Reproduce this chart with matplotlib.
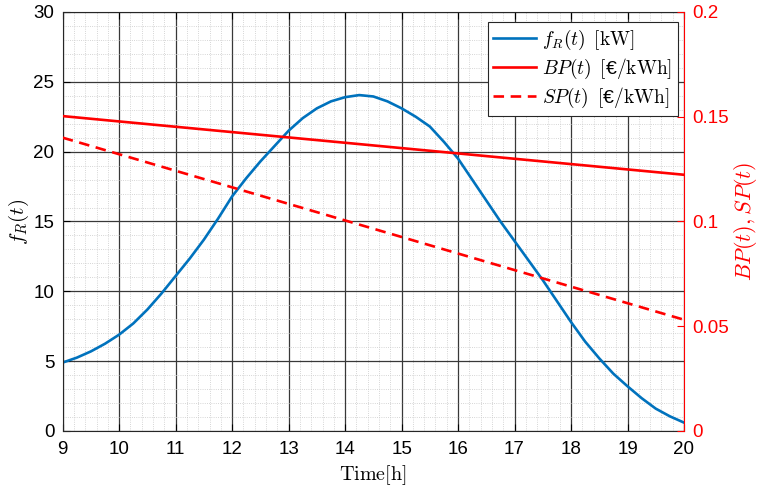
import matplotlib
matplotlib.use("Agg")
import matplotlib.pyplot as plt
from matplotlib.ticker import MultipleLocator, FuncFormatter

plt.rcParams['font.family'] = ['Liberation Sans', 'DejaVu Sans']
plt.rcParams['mathtext.fontset'] = 'cm'

# data
hours = [9, 9.25, 9.5, 9.75, 10, 10.25, 10.5, 10.75, 11, 11.25, 11.5, 11.75,
         12, 12.25, 12.5, 12.75, 13, 13.25, 13.5, 13.75, 14, 14.25, 14.5, 14.75,
         15, 15.25, 15.5, 15.75, 16, 16.25, 16.5, 16.75, 17, 17.25, 17.5, 17.75,
         18, 18.25, 18.5, 18.75, 19, 19.25, 19.5, 19.75, 20]
f_r = [4.9, 5.25, 5.7, 6.25, 6.9, 7.7, 8.7, 9.85, 11.1, 12.35, 13.7, 15.2,
       16.8, 18.1, 19.3, 20.4, 21.5, 22.4, 23.1, 23.6, 23.9, 24.05, 23.95, 23.6,
       23.1, 22.5, 21.8, 20.7, 19.5, 18.0, 16.5, 15.0, 13.6, 12.2, 10.8, 9.3,
       7.8, 6.4, 5.2, 4.1, 3.2, 2.35, 1.6, 1.05, 0.6]
price_hours = [9, 20]
bp = [0.1503, 0.1223]
sp = [0.140, 0.0531]

blue = '#0072BD'
red = '#FF0000'

fig = plt.figure(figsize=(7.61, 4.93), dpi=100)
ax = fig.add_axes([0.0824, 0.1258, 0.8164, 0.8499])
ax2 = ax.twinx()

l1, = ax.plot(hours, f_r, color=blue, lw=1.9)
l2, = ax2.plot(price_hours, bp, color=red, lw=1.9)
l3, = ax2.plot(price_hours, sp, color=red, lw=1.9, ls=(0, (4, 2.5)))

ax.set_xlim(9, 20)
ax.set_ylim(0, 30)
ax2.set_ylim(0, 0.2)

ax.xaxis.set_major_locator(MultipleLocator(1))
ax.xaxis.set_minor_locator(MultipleLocator(0.2))
ax.yaxis.set_major_locator(MultipleLocator(5))
ax.yaxis.set_minor_locator(MultipleLocator(1))
ax2.yaxis.set_major_locator(MultipleLocator(0.05))
ax2.yaxis.set_major_formatter(FuncFormatter(lambda v, p: ('%g' % round(v, 3))))

ax.grid(True, which='major', color='#383838', lw=0.9)
ax.grid(True, which='minor', color='#c8c8c8', lw=0.6, ls=':')
ax.set_axisbelow(True)

ax.tick_params(which='both', direction='in', labelsize=13.5, top=True)
ax.tick_params(which='minor', length=0)
ax.tick_params(which='major', length=5, width=0.8)
ax.tick_params(axis='x', pad=7)
ax.tick_params(axis='y', pad=6)
ax2.tick_params(direction='in', labelsize=13.5, colors=red, length=5, pad=6)

for s in ['left', 'top', 'bottom']:
    ax.spines[s].set_color('#262626')
ax.spines['right'].set_visible(False)
ax2.spines['right'].set_color(red)
for s in ['left', 'top', 'bottom']:
    ax2.spines[s].set_visible(False)

ax.set_xlabel(r'$\mathrm{Time[h]}$', fontsize=14.5, labelpad=4)
ax.set_ylabel(r'$f_R(t)$', fontsize=15, labelpad=2)
ax2.set_ylabel(r'$BP(t),SP(t)$', fontsize=16, color=red, labelpad=2)

leg = ax2.legend([l1, l2, l3],
                 [r'$f_R(t)\ \,[\mathrm{kW}]$',
                  r'$BP(t)\ \,[$€$\mathrm{/kWh}]$',
                  r'$SP(t)\ \,[$€$\mathrm{/kWh}]$'],
                 loc='upper right', bbox_to_anchor=(0.99, 0.976),
                 fontsize=14, fancybox=False, framealpha=1,
                 edgecolor='#262626', handlelength=2.2, borderpad=0.3,
                 labelspacing=0.25, handletextpad=0.3, borderaxespad=0)
leg.get_frame().set_linewidth(0.8)

fig.savefig('out.png', dpi=100)
